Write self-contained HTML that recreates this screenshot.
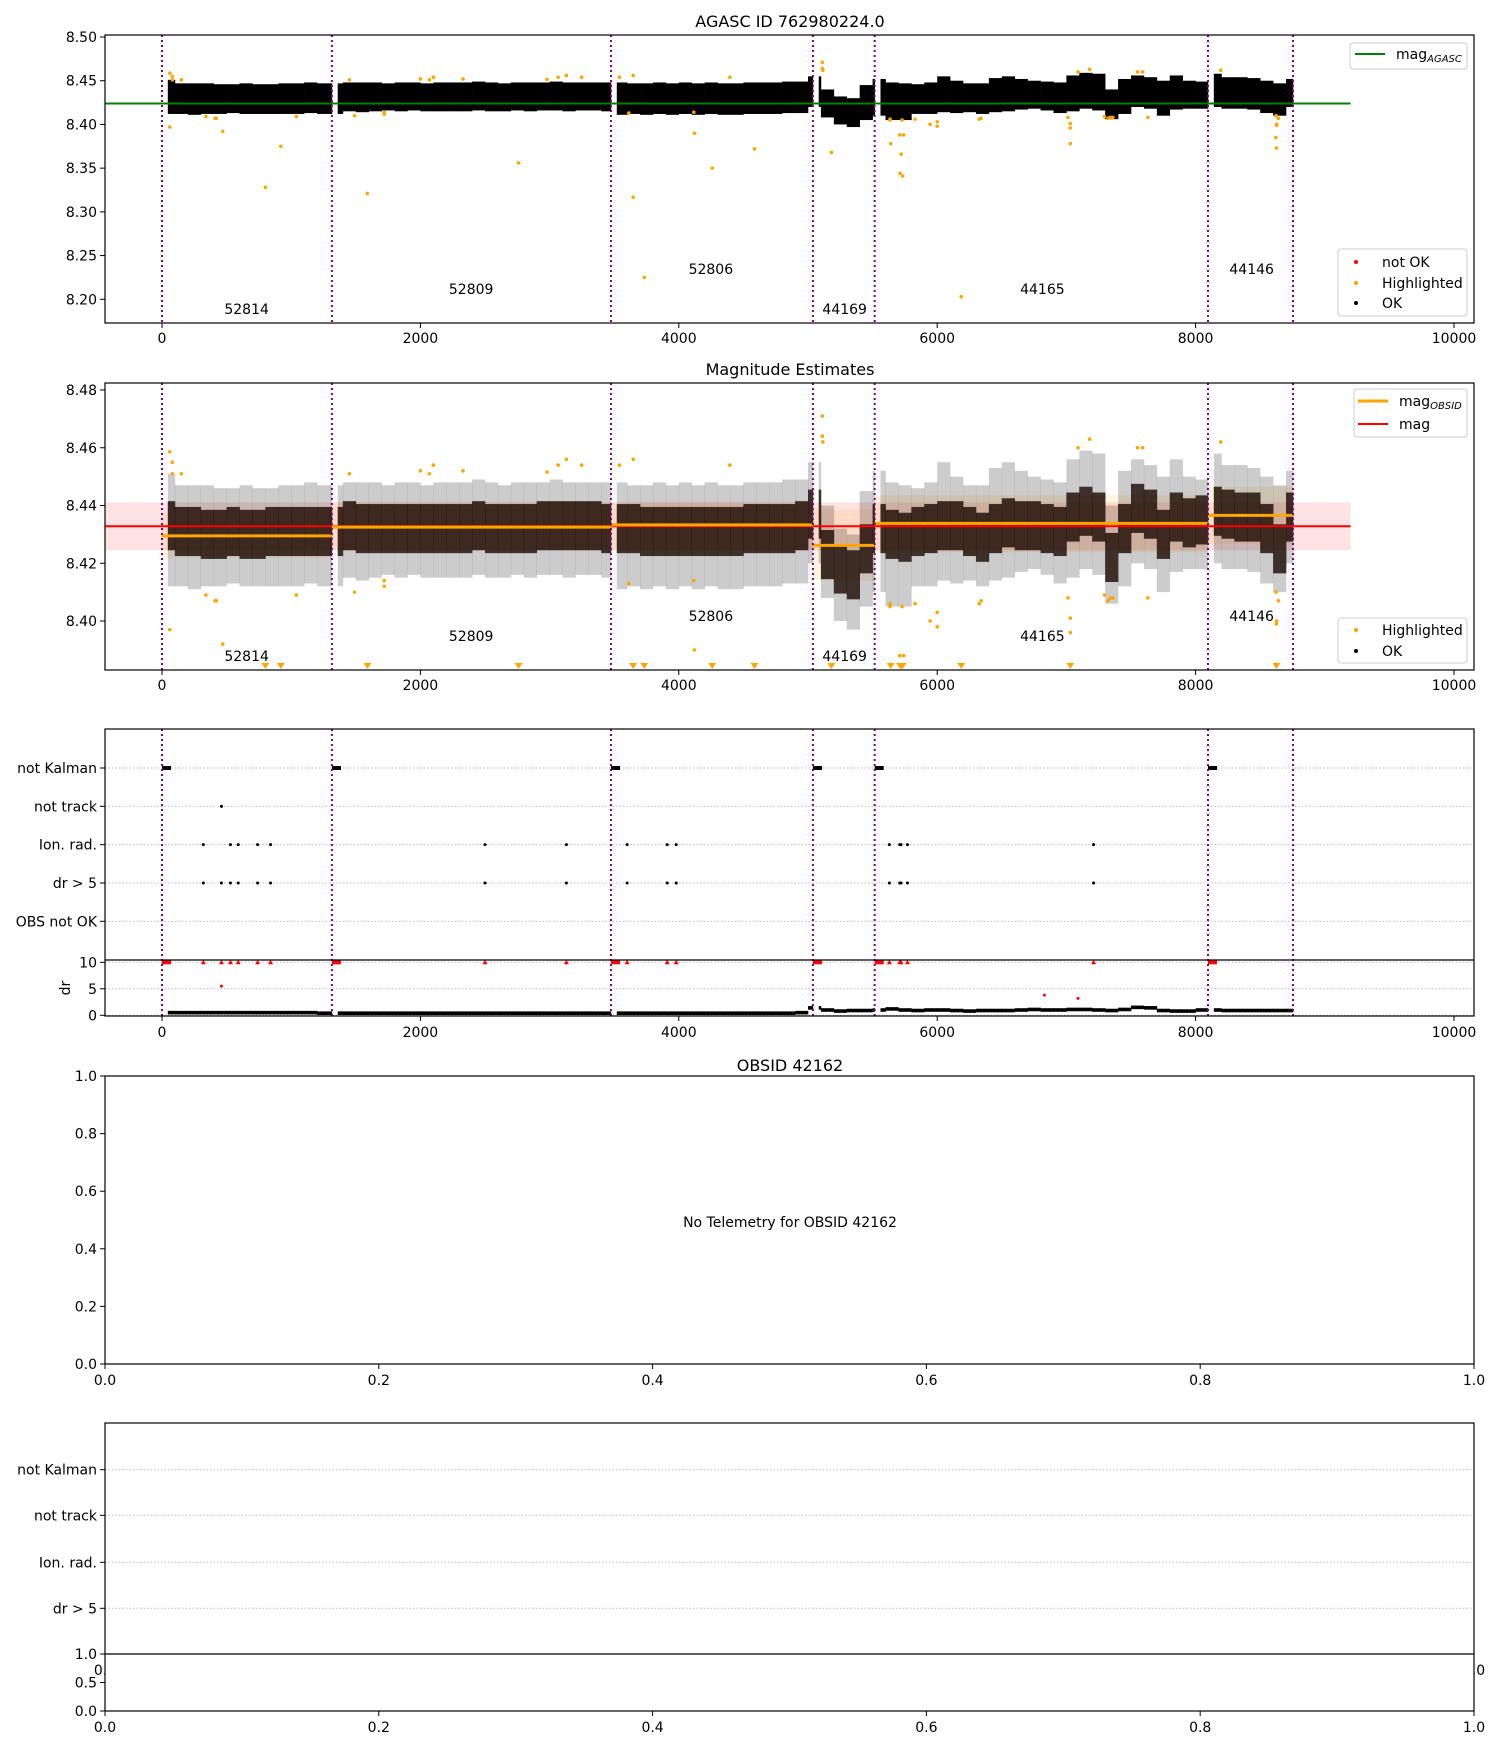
<!DOCTYPE html>
<html><head><meta charset="utf-8"><style>
html,body{margin:0;padding:0;background:#fff;}
svg{display:block;font-family:"DejaVu Sans","Liberation Sans",sans-serif;}
</style></head><body>
<svg id="fig" width="1500" height="1750" viewBox="0 0 1500 1750" xmlns="http://www.w3.org/2000/svg">
<rect width="1500" height="1750" fill="#fff"/>
<defs>
<clipPath id="c1"><rect x="105" y="35" width="1369" height="288"/></clipPath>
<clipPath id="c2"><rect x="105" y="383" width="1369" height="287"/></clipPath>
<clipPath id="c3"><rect x="105" y="729" width="1369" height="287"/></clipPath>
</defs>
<g id="p1"></g>
<g id="p2"></g>
<g id="p3"></g>
<g id="p4"></g>
<g id="p5"></g>
</svg>
<script>
// ---------- data ----------
const segStart = [0, 1315, 3475, 5038, 5516, 8096];
const segEnd   = [1315, 3475, 5038, 5516, 8096, 8754];
const obsids   = ["52814", "52809", "52806", "44169", "44165", "44146"];
const obsLabelX = [655, 2393, 4248, 5284, 6814, 8434];
const obsMean  = [8.4295, 8.4325, 8.4333, 8.4262, 8.4338, 8.4366];
const obsBandLo = [8.4219, 8.4245, 8.4245, 8.4140, 8.4238, 8.4267];
const obsBandHi = [8.4375, 8.4410, 8.4410, 8.4387, 8.4436, 8.4465];
const magAgasc = 8.4240;
const magMean = 8.4328;
const magLo = 8.4245, magHi = 8.4411;
const binStep = 100;
const binMean = [8.433,8.431,8.431,8.430,8.430,8.431,8.430,8.430,8.431,8.431,8.431,8.431,8.431,8.431,
 8.433,8.432,8.432,8.432,8.432,8.432,8.432,8.432,8.432,8.432,8.433,8.432,8.432,8.432,8.432,8.433,8.433,8.433,8.433,8.433,8.432,
 8.432,8.432,8.431,8.431,8.431,8.431,8.431,8.431,8.431,8.431,8.432,8.432,8.432,8.432,8.433,
 8.437,8.423,8.418,8.416,8.425,8.432,
 8.430,8.429,8.431,8.432,8.433,8.433,8.431,8.429,8.432,8.434,8.433,8.433,8.432,8.431,8.436,8.438,8.436,8.422,8.432,8.439,8.437,8.430,8.436,8.434,8.435,
 8.438,8.437,8.436,8.436,8.432,8.425,8.436];
const binLo = [8.412,8.412,8.411,8.412,8.412,8.413,8.412,8.412,8.412,8.412,8.412,8.413,8.412,8.412,
 8.415,8.414,8.415,8.416,8.415,8.416,8.415,8.415,8.415,8.415,8.416,8.415,8.415,8.416,8.415,8.416,8.416,8.415,8.416,8.416,8.415,
 8.411,8.412,8.411,8.412,8.411,8.412,8.411,8.412,8.411,8.411,8.412,8.412,8.412,8.413,8.413,
 8.420,8.408,8.400,8.397,8.405,8.410,
 8.405,8.405,8.412,8.412,8.414,8.413,8.414,8.412,8.414,8.415,8.417,8.418,8.416,8.413,8.415,8.418,8.416,8.406,8.412,8.420,8.418,8.410,8.417,8.418,8.418,
 8.420,8.418,8.418,8.417,8.413,8.410,8.420];
const binHi = [8.451,8.447,8.447,8.447,8.446,8.446,8.447,8.446,8.446,8.447,8.447,8.448,8.447,8.447,
 8.448,8.448,8.448,8.447,8.448,8.448,8.447,8.448,8.448,8.448,8.449,8.448,8.447,8.448,8.448,8.448,8.449,8.448,8.448,8.448,8.448,
 8.448,8.447,8.447,8.448,8.447,8.448,8.447,8.448,8.447,8.447,8.448,8.448,8.448,8.449,8.449,
 8.455,8.440,8.432,8.430,8.445,8.452,
 8.448,8.447,8.446,8.448,8.455,8.450,8.447,8.447,8.453,8.455,8.452,8.450,8.449,8.448,8.456,8.459,8.458,8.440,8.452,8.456,8.454,8.450,8.456,8.450,8.449,
 8.458,8.454,8.454,8.453,8.450,8.447,8.452];
const hlX = [60,80,80,150,60,340,410,420,470,800,920,1040,1450,1490,1590,1720,1720,2000,2070,2100,2330,2760,2980,3066,3130,3248,3540,3613,3647,3647,3733,4116,4121,4259,4395,4586,5111,5111,5115,5181,5635,5635,5640,5710,5740,5721,5713,5732,5728,5829,5945,6000,6000,6186,6325,6340,7012,7030,7030,7030,7090,7180,7295,7323,7340,7360,7550,7590,7630,8195,8623,8640,8625,8628,8620,8626];
const hlV = [8.4586,8.455,8.451,8.451,8.397,8.409,8.407,8.407,8.392,8.328,8.375,8.409,8.451,8.410,8.321,8.412,8.414,8.452,8.451,8.454,8.452,8.356,8.4516,8.454,8.456,8.454,8.454,8.413,8.456,8.3167,8.225,8.414,8.390,8.350,8.454,8.372,8.471,8.464,8.462,8.368,8.405,8.406,8.378,8.388,8.388,8.366,8.344,8.341,8.405,8.406,8.400,8.398,8.403,8.203,8.406,8.407,8.408,8.401,8.396,8.378,8.460,8.463,8.409,8.407,8.408,8.408,8.460,8.460,8.408,8.462,8.410,8.407,8.399,8.400,8.385,8.373];
const flagRows = ["not Kalman","not track","Ion. rad.","dr > 5","OBS not OK"];
const notTrackX = [460];
const ionRadX = [320,530,590,740,840,2500,3130,3600,3910,3980,5630,5710,5720,5770,7210];
const dr5X = [320,460,530,590,740,840,2500,3130,3600,3910,3980,5630,5710,5720,5770,7210];
const drRedX = [6830,7090,460];
const drRedV = [3.8,3.2,5.5];
const drMean = [0.5,0.5,0.5,0.5,0.5,0.5,0.5,0.5,0.5,0.5,0.5,0.5,0.4,0.4,
 0.4,0.4,0.4,0.4,0.4,0.4,0.4,0.4,0.4,0.4,0.4,0.4,0.4,0.4,0.4,0.4,0.4,0.4,0.4,0.4,0.4,
 0.4,0.4,0.4,0.4,0.4,0.4,0.4,0.4,0.4,0.4,0.4,0.4,0.4,0.4,0.5,
 1.4,1.0,0.8,0.9,0.9,1.0,
 1.2,1.0,0.9,1.0,1.0,0.9,0.8,0.9,0.9,0.9,1.0,1.1,1.0,1.0,1.1,1.1,1.0,0.9,1.1,1.5,1.4,0.9,0.8,0.8,1.0,
 1.0,0.9,0.9,0.9,0.9,0.9,0.9];
const xTicks = [0,2000,4000,6000,8000,10000];
const y1Ticks = [8.20,8.25,8.30,8.35,8.40,8.45,8.50];
const y2Ticks = [8.40,8.42,8.44,8.46,8.48];
const fracTicks = [0.0,0.2,0.4,0.6,0.8,1.0];
const drTicks = [0,5,10];

// ---------- scales ----------
const L = 105, R = 1474;
const X = d => 162 + d * 0.1292;
const Y1 = v => 37 + (8.50 - v) * 874.3;
const Y2 = v => 621 - (v - 8.40) * 2887.5;
const rowY = i => 768 + i * 38.33;
const Ydr = v => 1015.3 - v * 5.3;
const NS = "http://www.w3.org/2000/svg";
function el(parent, tag, attrs, text) {
  const e = document.createElementNS(NS, tag);
  for (const k in attrs) e.setAttribute(k, attrs[k]);
  if (text !== undefined) e.textContent = text;
  parent.appendChild(e);
  return e;
}
const p1 = document.getElementById('p1'), p2 = document.getElementById('p2'), p3 = document.getElementById('p3'), p4 = document.getElementById('p4'), p5 = document.getElementById('p5');

function xAxis(g, bottom, baseline) {
  xTicks.forEach(t => {
    const x = X(t);
    const tk = el(g, 'line', {x1:x, x2:x, y1:bottom, y2:bottom+5, stroke:'#000', 'stroke-width':1});
    
    
    const lb = el(g, 'text', {x:x, y:baseline, 'font-size':14, 'text-anchor':'middle'}, String(t));
    
    
  });
}
function yAxis(g, ticks, Y, fmt) {
  ticks.forEach(t => {
    const y = Y(t);
    const tk = el(g, 'line', {x1:L-5, x2:L, y1:y, y2:y, stroke:'#000', 'stroke-width':1});
    
    
    const lb = el(g, 'text', {x:L-8, y:y+5, 'font-size':14, 'text-anchor':'end'}, fmt(t));
    
    
  });
}
function frame(g, top, bottom) {
  const f = el(g, 'rect', {x:L, y:top, width:R-L, height:bottom-top, fill:'none', stroke:'#000', 'stroke-width':1.2});
  
  
}
function vlines(g, top, bottom) {
  segStart.concat([segEnd[segEnd.length-1]]).forEach(s => {
    const l = el(g, 'line', {x1:X(s), x2:X(s), y1:top, y2:bottom, stroke:'#800080', 'stroke-width':2, 'stroke-dasharray':'2,3'});
    
    
  });
}
function forBins(fn) {
  segStart.forEach((s, k) => {
    const a0 = s + 45, a1 = segEnd[k];
    binMean.forEach((m, i) => {
      const b0 = Math.max(i * binStep, a0), b1 = Math.min((i + 1) * binStep, a1);
      if (b1 > b0) fn(i, b0, b1);
    });
  });
}

// ---------- panel 1 ----------
(function(){
  const g = el(p1, 'g', {'clip-path':'url(#c1)'});
  forBins((i, b0, b1) => {
    const r = el(g, 'rect', {x:X(b0), y:Y1(binHi[i]), width:X(b1)-X(b0)+0.3, height:Y1(binLo[i])-Y1(binHi[i]), fill:'#000'});
    
    
  });
  hlX.forEach((x, i) => {
    const c = el(g, 'circle', {cx:X(x), cy:Y1(hlV[i]), r:1.8, fill:'#ffa500'});
    
    
  });
  const ml = el(g, 'line', {x1:L, x2:X(9200), y1:Y1(magAgasc), y2:Y1(magAgasc), stroke:'#008000', 'stroke-width':2});
  
  
  vlines(g, 35, 323);
  obsids.forEach((o, k) => {
    const t = el(g, 'text', {x:X(obsLabelX[k]), y:[314,294,274][k%3], 'font-size':14, 'text-anchor':'middle'}, o);
    
    
  });
  frame(p1, 35, 323);
  xAxis(p1, 323, 343);
  yAxis(p1, y1Ticks, Y1, v => v.toFixed(2));
  const tt = el(p1, 'text', {x:790, y:27, 'font-size':16, 'text-anchor':'middle'}, 'AGASC ID 762980224.0');
  
  
})();

// ---------- panel 2 ----------
(function(){
  const g = el(p2, 'g', {'clip-path':'url(#c2)'});
  const band = el(g, 'rect', {x:L, y:Y2(magHi), width:X(9200)-L, height:Y2(magLo)-Y2(magHi), fill:'rgba(255,0,0,0.11)'});
  
  
  segStart.forEach((s, k) => {
    const b = el(g, 'rect', {x:X(s), y:Y2(obsBandHi[k]), width:X(segEnd[k])-X(s), height:Y2(obsBandLo[k])-Y2(obsBandHi[k]), fill:'rgba(255,165,0,0.12)'});
    
    
  });
  forBins((i, b0, b1) => {
    const r = el(g, 'rect', {x:X(b0), y:Y2(binHi[i]), width:X(b1)-X(b0)+0.3, height:Y2(binLo[i])-Y2(binHi[i]), fill:'rgba(0,0,0,0.2)'});
    
    
    const c = el(g, 'rect', {x:X(b0), y:Y2(binMean[i]+0.0085), width:X(b1)-X(b0)+0.3, height:Y2(binMean[i]-0.0085)-Y2(binMean[i]+0.0085), fill:'rgba(25,8,0,0.8)'});
    
    
  });
  hlX.forEach((x, i) => {
    const v = hlV[i];
    if (v < 8.384) {
      const px = X(x), py = 667;
      const t = el(g, 'path', {d:`M${px-4},${py-4}L${px+4},${py-4}L${px},${py+2}Z`, fill:'#ffa500'});
      
      
    } else {
      const c = el(g, 'circle', {cx:X(x), cy:Y2(v), r:1.8, fill:'#ffa500'});
      
      
    }
  });
  const rl = el(g, 'line', {x1:L, x2:X(9200), y1:Y2(magMean), y2:Y2(magMean), stroke:'#ff0000', 'stroke-width':2});
  
  
  segStart.forEach((s, k) => {
    const l = el(g, 'line', {x1:X(s), x2:X(segEnd[k]), y1:Y2(obsMean[k]), y2:Y2(obsMean[k]), stroke:'#ffa500', 'stroke-width':3});
    
    
  });
  vlines(g, 383, 670);
  obsids.forEach((o, k) => {
    const t = el(g, 'text', {x:X(obsLabelX[k]), y:[661,641,621][k%3], 'font-size':14, 'text-anchor':'middle'}, o);
    
    
  });
  frame(p2, 383, 670);
  xAxis(p2, 670, 690);
  yAxis(p2, y2Ticks, Y2, v => v.toFixed(2));
  const tt = el(p2, 'text', {x:790, y:375, 'font-size':16, 'text-anchor':'middle'}, 'Magnitude Estimates');
  
  
})();

// ---------- panel 3 ----------
(function(){
  const g = el(p3, 'g', {'clip-path':'url(#c3)'});
  flagRows.forEach((r, i) => {
    const l = el(g, 'line', {x1:L, x2:R, y1:rowY(i), y2:rowY(i), stroke:'#bbb', 'stroke-width':1, 'stroke-dasharray':'1.5,2'});
    
    
  });
  drTicks.forEach(t => {
    const l = el(g, 'line', {x1:L, x2:R, y1:Ydr(t), y2:Ydr(t), stroke:'#bbb', 'stroke-width':1, 'stroke-dasharray':'1.5,2'});
    
    
  });
  segStart.forEach(s => {
    const k = el(g, 'rect', {x:X(s), y:rowY(0)-2, width:X(s+70)-X(s), height:4, fill:'#000'});
    
    
    const d = el(g, 'rect', {x:X(s), y:Ydr(10)-2, width:X(s+70)-X(s), height:4, fill:'#ff0000'});
    
    
  });
  notTrackX.forEach(x => { const c = el(g, 'circle', {cx:X(x), cy:rowY(1), r:1.5, fill:'#000'});   });
  ionRadX.forEach(x => { const c = el(g, 'circle', {cx:X(x), cy:rowY(2), r:1.5, fill:'#000'});   });
  dr5X.forEach(x => {
    const c = el(g, 'circle', {cx:X(x), cy:rowY(3), r:1.5, fill:'#000'});
    
    
    const px = X(x), py = Ydr(10);
    const t = el(g, 'path', {d:`M${px-2.5},${py+2}L${px+2.5},${py+2}L${px},${py-2.5}Z`, fill:'#ff0000'});
    
    
  });
  drRedX.forEach((x, i) => {
    const c = el(g, 'circle', {cx:X(x), cy:Ydr(drRedV[i]), r:1.5, fill:'#ff0000'});
    
    
  });
  forBins((i, b0, b1) => {
    const r = el(g, 'rect', {x:X(b0), y:Ydr(drMean[i])-1.8, width:X(b1)-X(b0)+0.3, height:3.6, fill:'#000'});
    
    
  });
  vlines(g, 729, 1016);
  const sep = el(p3, 'line', {x1:L, x2:R, y1:960, y2:960, stroke:'#000', 'stroke-width':1.2});
  
  
  frame(p3, 729, 1016);
  xAxis(p3, 1016, 1037);
  flagRows.forEach((r, i) => {
    const y = rowY(i);
    const tk = el(p3, 'line', {x1:L-5, x2:L, y1:y, y2:y, stroke:'#000'});
    
    
    const t = el(p3, 'text', {x:L-8, y:y+5, 'font-size':14, 'text-anchor':'end'}, r);
    
    
  });
  yAxis(p3, drTicks, Ydr, v => String(v));
  const yl = el(p3, 'text', {x:70, y:988, 'font-size':14, 'text-anchor':'middle', transform:'rotate(-90 70 988)'}, 'dr');
  
  
})();

// ---------- panel 4 ----------
(function(){
  const F = v => L + v * (R - L), Yf = v => 1364 - v * 288;
  frame(p4, 1076, 1364);
  fracTicks.forEach(t => {
    const a = el(p4, 'line', {x1:F(t), x2:F(t), y1:1364, y2:1369, stroke:'#000'});
     
    const b = el(p4, 'text', {x:F(t), y:1385, 'font-size':14, 'text-anchor':'middle'}, t.toFixed(1));
     
  });
  yAxis(p4, fracTicks, Yf, v => v.toFixed(1));
  const tt = el(p4, 'text', {x:790, y:1071, 'font-size':16, 'text-anchor':'middle'}, 'OBSID 42162');
   
  const nt = el(p4, 'text', {x:790, y:1227, 'font-size':14, 'text-anchor':'middle'}, 'No Telemetry for OBSID 42162');
   
})();

// ---------- panel 5 ----------
(function(){
  const F = v => L + v * (R - L);
  const rY = [1469.7, 1515.3, 1562.3, 1608.3];
  [0.0, 1.0].forEach(t => {
    const b = el(p5, 'text', {x:F(t), y:1675, 'font-size':14, 'text-anchor':'middle'}, t.toFixed(1));
     
  });
  const cover = el(p5, 'rect', {x:L, y:1423, width:R-L, height:1711-1423, fill:'#fff'});
   
  flagRows.slice(0, 4).forEach((r, i) => {
    const l = el(p5, 'line', {x1:L, x2:R, y1:rY[i], y2:rY[i], stroke:'#bbb', 'stroke-dasharray':'1.5,2'});
     
    const tk = el(p5, 'line', {x1:L-5, x2:L, y1:rY[i], y2:rY[i], stroke:'#000'});
     
    const t = el(p5, 'text', {x:L-8, y:rY[i]+5, 'font-size':14, 'text-anchor':'end'}, r);
     
  });
  frame(p5, 1423, 1711);
  const sep = el(p5, 'line', {x1:L, x2:R, y1:1654, y2:1654, stroke:'#000', 'stroke-width':1.2});
   
  yAxis(p5, [0.0, 0.5, 1.0], v => 1711 - v * 57, v => v.toFixed(1));
  fracTicks.forEach(t => {
    const a = el(p5, 'line', {x1:F(t), x2:F(t), y1:1711, y2:1716, stroke:'#000'});
     
    const b = el(p5, 'text', {x:F(t), y:1732, 'font-size':14, 'text-anchor':'middle'}, t.toFixed(1));
     
  });
})();

// ---------- legends ----------
(function(){
  const fig = document.getElementById('fig');
  function box(x, y, w, h, name) {
    const b = el(fig, 'rect', {x:x, y:y, width:w, height:h, rx:3, fill:'rgba(255,255,255,0.85)', stroke:'#ccc'});
     
  }
  function entryLine(x, y, color, label, sub, w) {
    const l = el(fig, 'line', {x1:x, x2:x+30, y1:y, y2:y, stroke:color, 'stroke-width':w});
     
    const t = el(fig, 'text', {x:x+41, y:y+5, 'font-size':14}, label);
     
    if (sub) { el(t, 'tspan', {'font-size':10, 'font-style':'italic', dy:3}, sub); }
  }
  function entryDot(x, y, color, label) {
    const c = el(fig, 'circle', {cx:x, cy:y, r:2, fill:color});
     
    const t = el(fig, 'text', {x:x+26, y:y+5, 'font-size':14}, label);
     
  }
  box(1350, 43, 117, 26, 'legend-agasc');
  entryLine(1355, 54, '#008000', 'mag', 'AGASC', 2);
  box(1338, 249, 129, 67, 'legend-points');
  entryDot(1356, 262, '#ff0000', 'not OK');
  entryDot(1356, 283, '#ffa500', 'Highlighted');
  entryDot(1356, 303, '#000', 'OK');
  box(1354, 389, 113, 48, 'legend-mag');
  entryLine(1358, 401, '#ffa500', 'mag', 'OBSID', 3);
  entryLine(1358, 424, '#ff0000', 'mag', undefined, 2);
  box(1338, 618, 129, 45, 'legend-points');
  entryDot(1356, 630, '#ffa500', 'Highlighted');
  entryDot(1356, 651, '#000', 'OK');
})();
</script>
</body></html>
